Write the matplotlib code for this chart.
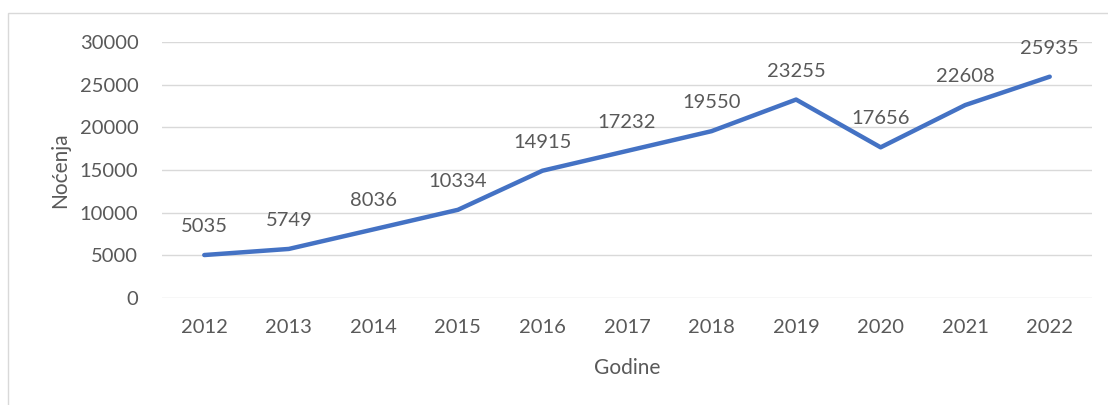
import matplotlib
matplotlib.use("Agg")
import matplotlib.pyplot as plt
from matplotlib.patches import Rectangle

years = ["2012", "2013", "2014", "2015", "2016", "2017", "2018", "2019", "2020", "2021", "2022"]
nights = [5035, 5749, 8036, 10334, 14915, 17232, 19550, 23255, 17656, 22608, 25935]

plt.rcParams['font.family'] = ['Lato', 'DejaVu Sans']
text_col = '#595959'

fig = plt.figure(figsize=(11.08, 4.05), dpi=100)
# outer chart border (cut by the image edge on the right and bottom)
fig.patches.append(Rectangle((8 / 1108, -0.05), 1.2, 392 / 405 + 0.05,
                             transform=fig.transFigure, fill=False,
                             edgecolor='#D9D9D9', linewidth=1))

ax = fig.add_axes([162 / 1108, 107 / 405, 930 / 1108, 256 / 405])
x = range(len(years))
ax.plot(x, nights, color='#4472C4', linewidth=3.2, solid_capstyle='round')

for xi, v in zip(x, nights):
    ax.annotate(str(v), (xi, v), xytext=(0, 20.5), textcoords='offset points',
                ha='center', va='center', fontsize=14.5, color=text_col)

ax.set_xlim(-0.5, len(years) - 0.5)
ax.set_ylim(0, 30000)
ax.set_yticks(range(0, 30001, 5000))
ax.set_xticks(list(x))
ax.set_xticklabels(years)
ax.grid(axis='y', color='#D9D9D9', linewidth=1)
ax.set_axisbelow(True)
for s in ax.spines.values():
    s.set_visible(False)
ax.tick_params(axis='y', length=0, labelsize=14.5, labelcolor=text_col, pad=17)
ax.tick_params(axis='x', length=0, labelsize=14.5, labelcolor=text_col, pad=15)
ax.set_xlabel("Godine", fontsize=15, color=text_col, labelpad=16)
ax.set_ylabel("Noćenja", fontsize=15, color=text_col, labelpad=7)

fig.savefig("out.png", dpi=100)
